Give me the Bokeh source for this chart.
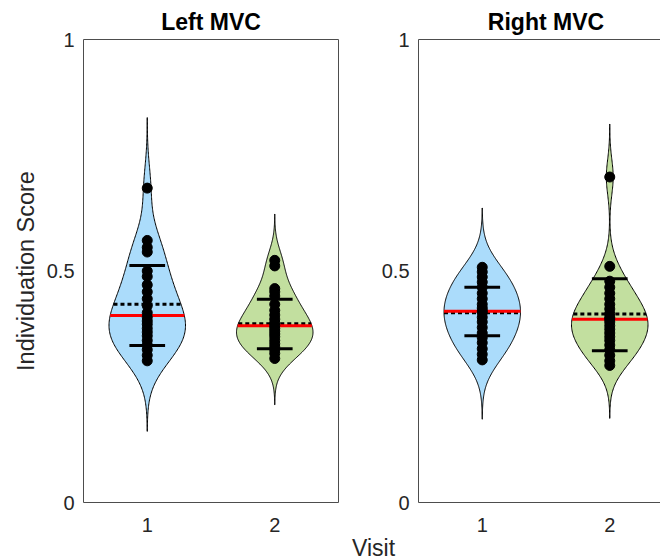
import numpy as np
from bokeh.plotting import figure
from bokeh.models import Range1d
from bokeh.core.properties import value
from bokeh.embed import file_html
from bokeh.resources import INLINE

# ---------------- data ----------------
panel_titles = ["Left MVC", "Right MVC"]
visits = [1, 2]
visit_text = ["1", "2"]
violin_colors = ["#ABDCFB", "#C2DF9F"]

left_visit1 = [0.679, 0.566, 0.551, 0.541, 0.500, 0.488, 0.470, 0.455, 0.440, 0.425, 0.410,
               0.400, 0.392, 0.385, 0.376, 0.368, 0.360, 0.350, 0.340, 0.330, 0.318, 0.306]
left_visit2 = [0.523, 0.511, 0.462, 0.455, 0.446, 0.428, 0.415, 0.405, 0.396, 0.388, 0.382,
               0.376, 0.370, 0.364, 0.358, 0.350, 0.343, 0.336, 0.330, 0.322, 0.311]
right_visit1 = [0.508, 0.498, 0.487, 0.476, 0.465, 0.452, 0.440, 0.428, 0.420, 0.414, 0.410,
                0.400, 0.390, 0.378, 0.366, 0.356, 0.345, 0.332, 0.320, 0.308]
right_visit2 = [0.703, 0.510, 0.478, 0.465, 0.452, 0.440, 0.428, 0.418, 0.408, 0.400, 0.396,
                0.390, 0.382, 0.374, 0.366, 0.358, 0.350, 0.340, 0.330, 0.318, 0.306, 0.296]

left_means = [0.428, 0.386]
left_medians = [0.404, 0.382]
left_sd_upper = [0.512, 0.439]
left_sd_lower = [0.339, 0.332]

right_means = [0.410, 0.407]
right_medians = [0.413, 0.396]
right_sd_upper = [0.465, 0.483]
right_sd_lower = [0.360, 0.328]

y_ticks = [0, 0.5, 1]
y_tick_text = ["0", "0.5", "1"]
x_label = "Visit"
y_label = "Individuation Score"

FONT = "Liberation Sans"
AXIS_COLOR = "#4d4d4d"
TEXT_COLOR = "#262626"

# ---------------- layout (pixels) ----------------
W, H = 660, 560
PANEL_LEFT = {"left": 83, "right": 418}   # left edge of each panel box
BOX_TOP, BOX_BOTTOM = 39, 502             # y = 1 and y = 0
PX_X = 127.5                              # pixels per visit unit
PX_Y = BOX_BOTTOM - BOX_TOP               # pixels per score unit


def panel_range(name):
    left = PANEL_LEFT[name]
    return Range1d(0.5 - left / PX_X, 0.5 + (W - left) / PX_X)


def violin_profile(data):
    d = np.asarray(data, dtype=float)
    n = len(d)
    sig = np.median(np.abs(d - np.median(d))) / 0.6745
    bw = sig * (4.0 / (3.0 * n)) ** 0.2
    grid = np.linspace(d.min() - 3 * bw, d.max() + 3 * bw, 240)
    dens = np.exp(-0.5 * ((grid[:, None] - d[None, :]) / bw) ** 2).sum(axis=1)
    half = 0.3 * dens / dens.max()
    return grid, half


p = figure(width=W, height=H, x_range=panel_range("left"),
           y_range=Range1d(-(H - BOX_BOTTOM) / PX_Y, 1 + BOX_TOP / PX_Y),
           min_border=0, output_backend="svg", toolbar_location=None,
           x_axis_location=None, y_axis_location=None)
p.extra_x_ranges = {"right": panel_range("right")}
p.title = None
p.grid.visible = False
p.outline_line_color = None
p.background_fill_color = "white"


def draw_panel(rname, title, datasets, means, medians, sd_up, sd_lo):
    # axes box (right panel's right edge falls outside the window, as in the reference)
    p.quad(left=[0.5], right=[2.5], bottom=[0], top=[1], fill_color=None,
           line_color=AXIS_COLOR, line_width=1, x_range_name=rname)
    for pos, data, color, mu, med, su, sl in zip(visits, datasets, violin_colors,
                                                  means, medians, sd_up, sd_lo):
        grid, half = violin_profile(data)
        xs = np.concatenate([pos + half, (pos - half)[::-1]])
        ys = np.concatenate([grid, grid[::-1]])
        p.patch(xs, ys, fill_color=color, line_color="black", line_width=1,
                x_range_name=rname)
        w_mean = np.interp(mu, grid, half)
        p.segment(x0=[pos - w_mean], x1=[pos + w_mean], y0=[mu], y1=[mu],
                  line_color="black", line_width=3, line_dash="4 3", x_range_name=rname)
        w_med = np.interp(med, grid, half)
        p.segment(x0=[pos - w_med], x1=[pos + w_med], y0=[med], y1=[med],
                  line_color="#ff0000", line_width=3, x_range_name=rname)
        p.scatter(x=[pos] * len(data), y=data, size=10, fill_color="black",
                  line_color="black", x_range_name=rname)
        p.segment(x0=[pos - 0.14, pos - 0.14], x1=[pos + 0.14, pos + 0.14],
                  y0=[su, sl], y1=[su, sl], line_color="black", line_width=3,
                  x_range_name=rname)
    # y tick labels (9 px left of the box)
    p.text(x=[0.5 - 9 / PX_X] * len(y_ticks), y=y_ticks, text=y_tick_text,
           text_font=value(FONT), text_font_size="20px", text_color=TEXT_COLOR,
           text_align="right", text_baseline="middle", x_range_name=rname)
    # x tick labels (centred 22.5 px below the box)
    p.text(x=visits, y=[-22.5 / PX_Y] * len(visits), text=visit_text,
           text_font=value(FONT), text_font_size="20px", text_color=TEXT_COLOR,
           text_align="center", text_baseline="middle", x_range_name=rname)
    # panel title (centred ~18 px above the box), centred on the panel
    p.text(x=[1.5], y=[1 + 17.8 / PX_Y], text=[title], text_font=value(FONT),
           text_font_size="23px", text_font_style="bold", text_color="black",
           text_align="center", text_baseline="middle", x_range_name=rname)


draw_panel("default", panel_titles[0], [left_visit1, left_visit2], left_means,
           left_medians, left_sd_upper, left_sd_lower)
draw_panel("right", panel_titles[1], [right_visit1, right_visit2], right_means,
           right_medians, right_sd_upper, right_sd_lower)

# shared axis labels
p.text(x=[0.5 - (PANEL_LEFT["left"] - 25.5) / PX_X], y=[0.5], text=[y_label],
       angle=np.pi / 2, text_font=value(FONT), text_font_size="23.5px",
       text_color=TEXT_COLOR, text_align="center", text_baseline="middle")
p.text(x=[0.5 + (373 - PANEL_LEFT["left"]) / PX_X], y=[-(547.5 - BOX_BOTTOM) / PX_Y],
       text=[x_label], text_font=value(FONT), text_font_size="23px",
       text_color=TEXT_COLOR, text_align="center", text_baseline="middle")

open("out.html", "w").write(file_html(p, INLINE))
